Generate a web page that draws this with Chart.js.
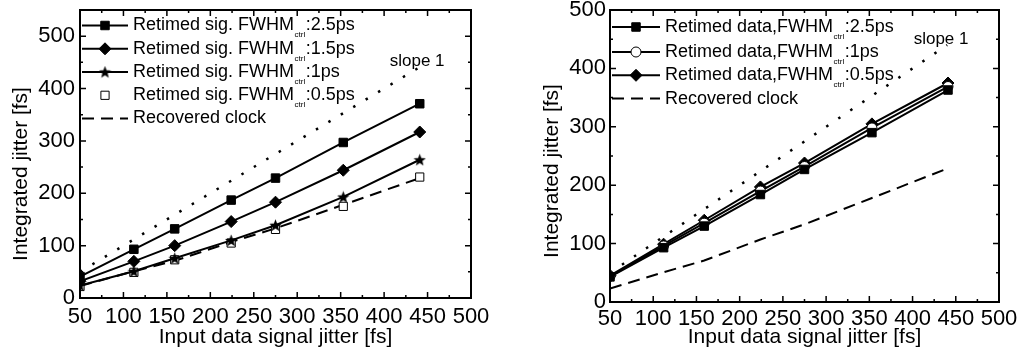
<!DOCTYPE html>
<html>
<head>
<meta charset="utf-8">
<script src="https://cdn.jsdelivr.net/npm/chart.js@4/dist/chart.umd.min.js"></script>
<style>
  body { margin: 0; background: #fff; }
  .wrap { position: relative; width: 1019px; height: 351px; }
  #left { position: absolute; left: 0; top: 0; }
  #right { position: absolute; left: 510px; top: 0; }
</style>
</head>
<body>
<div class="wrap">
  <canvas id="left" width="510" height="351"></canvas>
  <canvas id="right" width="509" height="351"></canvas>
</div>
<script>
// input data signal jitter [fs]
const inputJitter = [50, 112, 159, 224, 275, 353, 441]

// left panel: retimed signal, integrated jitter [fs]
const sig25 = [41, 93, 132, 187, 229, 297, 371]
const sig15 = [32, 70, 100, 146, 183, 244, 317]
const sig1 = [24, 51, 76, 110, 139, 193, 264]
const sig05 = [22, 49, 73, 105, 131, 175, 231]
const recoveredClock = [23, 51, 71, 107, 133, 178, 229]

// right panel: retimed data, integrated jitter [fs]
const data25 = [43, 93, 130, 184, 227, 290, 363]
const data1 = [44, 96, 135, 190, 232, 298, 369]
const data05 = [45, 99, 140, 197, 238, 305, 375]

// slope 1 guide
const slopeX = [50, 440]
const slopeY = [50, 440]

const xTicks = [50, 100, 150, 200, 250, 300, 350, 400, 450, 500]
const yTicks = [0, 100, 200, 300, 400, 500]

const FONT = '"Liberation Sans", Arial, Helvetica, sans-serif'
Chart.defaults.font.family = FONT
Chart.defaults.color = '#000'

function pts(xs, ys) {
  return xs.map((x, i) => ({ x: x, y: ys[i] }))
}

function makeStar(size) {
  const c = document.createElement('canvas')
  c.width = size
  c.height = size
  const g = c.getContext('2d')
  const R = size / 2, r = R * 0.42
  g.beginPath()
  for (let i = 0; i < 10; i++) {
    const rad = i % 2 ? r : R
    const a = -Math.PI / 2 + i * Math.PI / 5
    g.lineTo(R + rad * Math.cos(a), R + 0.5 + rad * Math.sin(a))
  }
  g.closePath()
  g.fillStyle = '#000'
  g.fill()
  return c
}
const star = makeStar(13)

function lineSet(values, style, extra) {
  return Object.assign({
    data: pts(inputJitter, values),
    borderColor: '#000',
    borderWidth: 2,
    pointStyle: style,
    pointRadius: 6,
    pointBackgroundColor: '#000',
    pointBorderColor: '#000',
    pointBorderWidth: 1,
    clip: { left: 0, top: false, right: false, bottom: false }
  }, extra || {})
}

function clockSet(values) {
  return {
    data: pts(inputJitter, values),
    borderColor: '#000',
    borderWidth: 2,
    borderDash: [12, 7],
    pointRadius: 0,
    clip: { left: 0, top: false, right: false, bottom: false }
  }
}

function slopeSet() {
  return {
    data: pts(slopeX, slopeY),
    borderColor: '#000',
    borderWidth: 2.5,
    borderDash: [2.5, 12],
    borderCapStyle: 'butt',
    pointRadius: 0
  }
}

// box with inward ticks on all four sides
const framePlugin = {
  id: 'frame',
  afterDatasetsDraw(chart) {
    const { ctx, chartArea: a, scales: { x, y } } = chart
    ctx.save()
    ctx.strokeStyle = '#000'
    ctx.lineWidth = 1.5
    ctx.beginPath()
    const xs = x.ticks.map(t => t.value)
    xs.forEach((v, i) => {
      const marks = [[v, 6]]
      if (i < xs.length - 1) marks.push([(v + xs[i + 1]) / 2, 3])
      marks.forEach(([val, len]) => {
        const px = x.getPixelForValue(val)
        ctx.moveTo(px, a.bottom); ctx.lineTo(px, a.bottom - len)
        ctx.moveTo(px, a.top); ctx.lineTo(px, a.top + len)
      })
    })
    const ys = y.ticks.map(t => t.value)
    ys.forEach((v, i) => {
      const marks = [[v, 6]]
      if (i < ys.length - 1) marks.push([(v + ys[i + 1]) / 2, 3])
      marks.forEach(([val, len]) => {
        const py = y.getPixelForValue(val)
        ctx.moveTo(a.left, py); ctx.lineTo(a.left + len, py)
        ctx.moveTo(a.right, py); ctx.lineTo(a.right - len, py)
      })
    })
    ctx.stroke()
    ctx.lineWidth = 2
    ctx.strokeRect(a.left, a.top, a.right - a.left, a.bottom - a.top)
    ctx.restore()
  }
}

// legend with subscripts, slope note and y title
const notesPlugin = {
  id: 'notes',
  afterDraw(chart, args, opts) {
    const ctx = chart.ctx
    const { x, y } = chart.scales
    ctx.save()
    ctx.fillStyle = '#000'
    ctx.textBaseline = 'middle'
    opts.items.forEach((it, i) => {
      const ds = chart.data.datasets[it.ds]
      const ry = opts.rows[i]
      if (ds.showLine !== false) {
        ctx.strokeStyle = '#000'
        ctx.lineWidth = ds.borderWidth
        ctx.setLineDash(ds.borderDash || [])
        ctx.beginPath()
        ctx.moveTo(opts.x0, ry)
        ctx.lineTo(opts.x1, ry)
        ctx.stroke()
        ctx.setLineDash([])
      }
      if (ds.pointRadius > 0) {
        ctx.fillStyle = ds.pointBackgroundColor
        ctx.strokeStyle = ds.pointBorderColor
        ctx.lineWidth = ds.pointBorderWidth
        Chart.helpers.drawPoint(ctx, {
          pointStyle: ds.pointStyle, radius: ds.pointRadius,
          rotation: 0, borderWidth: ds.pointBorderWidth
        }, (opts.x0 + opts.x1) / 2, ry)
      }
      ctx.fillStyle = '#000'
      ctx.textAlign = 'left'
      ctx.font = '18px ' + FONT
      let tx = opts.textX
      ctx.fillText(it.main, tx, ry)
      tx += ctx.measureText(it.main).width
      if (it.sub) {
        ctx.font = '8px ' + FONT
        ctx.fillText(it.sub, tx + 0.5, ry + 9.5)
        tx += ctx.measureText(it.sub).width + 1
        ctx.font = '18px ' + FONT
        ctx.fillText(it.tail, tx, ry)
      }
    })
    // slope note
    ctx.font = '17px ' + FONT
    ctx.textAlign = 'center'
    ctx.fillText(opts.note.text, x.getPixelForValue(opts.note.x), y.getPixelForValue(opts.note.y))
    // y axis title
    ctx.font = '21px ' + FONT
    ctx.translate(opts.yTitle.x, opts.yTitle.y)
    ctx.rotate(-Math.PI / 2)
    ctx.fillText(opts.yTitle.text, 0, 0)
    ctx.restore()
  }
}

function makeChart(id, datasets, o) {
  return new Chart(document.getElementById(id), {
    type: 'line',
    data: { datasets: datasets },
    plugins: [framePlugin, notesPlugin],
    options: {
      responsive: false,
      animation: false,
      events: [],
      layout: { padding: { top: 10, right: o.padRight, left: 0, bottom: 0 } },
      plugins: {
        legend: { display: false },
        tooltip: { enabled: false },
        notes: o.notes
      },
      scales: {
        x: {
          type: 'linear',
          min: 50,
          max: 500,
          afterBuildTicks: s => { s.ticks = xTicks.map(v => ({ value: v })) },
          afterFit: s => { s.height = o.xHeight; s.paddingLeft = 0; s.paddingRight = 0 },
          grid: { display: false, drawTicks: false },
          border: { display: false },
          ticks: { padding: o.xPad, maxRotation: 0, autoSkip: false, font: { size: 22 }, color: '#000' },
          title: { display: true, text: 'Input data signal jitter [fs]', font: { size: 21 }, padding: { top: 0, bottom: 1 }, color: '#000' }
        },
        y: {
          type: 'linear',
          min: 0,
          max: o.yMax,
          afterBuildTicks: s => { s.ticks = yTicks.map(v => ({ value: v })) },
          afterFit: s => { s.width = o.yWidth; s.paddingTop = 0; s.paddingBottom = 0 },
          grid: { display: false, drawTicks: false },
          border: { display: false },
          ticks: { padding: o.yPad, font: { size: 22 }, color: '#000' }
        }
      }
    }
  })
}

makeChart('left', [
  lineSet(sig25, 'rect'),
  lineSet(sig15, 'rectRot'),
  lineSet(sig1, star),
  lineSet(sig05, 'rect', { showLine: false, pointBackgroundColor: '#fff', pointRadius: 5.8 }),
  clockSet(recoveredClock),
  slopeSet()
], {
  padRight: 39, xHeight: 53, yWidth: 80, yMax: 550, xPad: 6, yPad: 5,
  notes: {
    x0: 82, x1: 128, textX: 133,
    rows: [25.5, 48.8, 72, 95.3, 118.5],
    items: [
      { ds: 0, main: 'Retimed sig. FWHM', sub: 'ctrl', tail: ':2.5ps' },
      { ds: 1, main: 'Retimed sig. FWHM', sub: 'ctrl', tail: ':1.5ps' },
      { ds: 2, main: 'Retimed sig. FWHM', sub: 'ctrl', tail: ':1ps' },
      { ds: 3, main: 'Retimed sig. FWHM', sub: 'ctrl', tail: ':0.5ps' },
      { ds: 4, main: 'Recovered clock' }
    ],
    note: { text: 'slope 1', x: 438, y: 452 },
    yTitle: { text: 'Integrated jitter [fs]', x: 21, y: 174 }
  }
})

makeChart('right', [
  lineSet(data25, 'rect'),
  lineSet(data1, 'circle', { pointBackgroundColor: '#fff', pointRadius: 5 }),
  lineSet(data05, 'rectRot'),
  clockSet(recoveredClock),
  slopeSet()
], {
  padRight: 20, xHeight: 49, yWidth: 100, yMax: 500, xPad: 4, yPad: 4,
  notes: {
    x0: 102, x1: 150, textX: 155,
    rows: [27, 52, 75.3, 98.6],
    items: [
      { ds: 0, main: 'Retimed data,FWHM', sub: 'ctrl', tail: ':2.5ps' },
      { ds: 1, main: 'Retimed data,FWHM', sub: 'ctrl', tail: ':1ps' },
      { ds: 2, main: 'Retimed data,FWHM', sub: 'ctrl', tail: ':0.5ps' },
      { ds: 3, main: 'Recovered clock' }
    ],
    note: { text: 'slope 1', x: 433, y: 450 },
    yTitle: { text: 'Integrated jitter [fs]', x: 42, y: 171 }
  }
})
</script>
</body>
</html>
